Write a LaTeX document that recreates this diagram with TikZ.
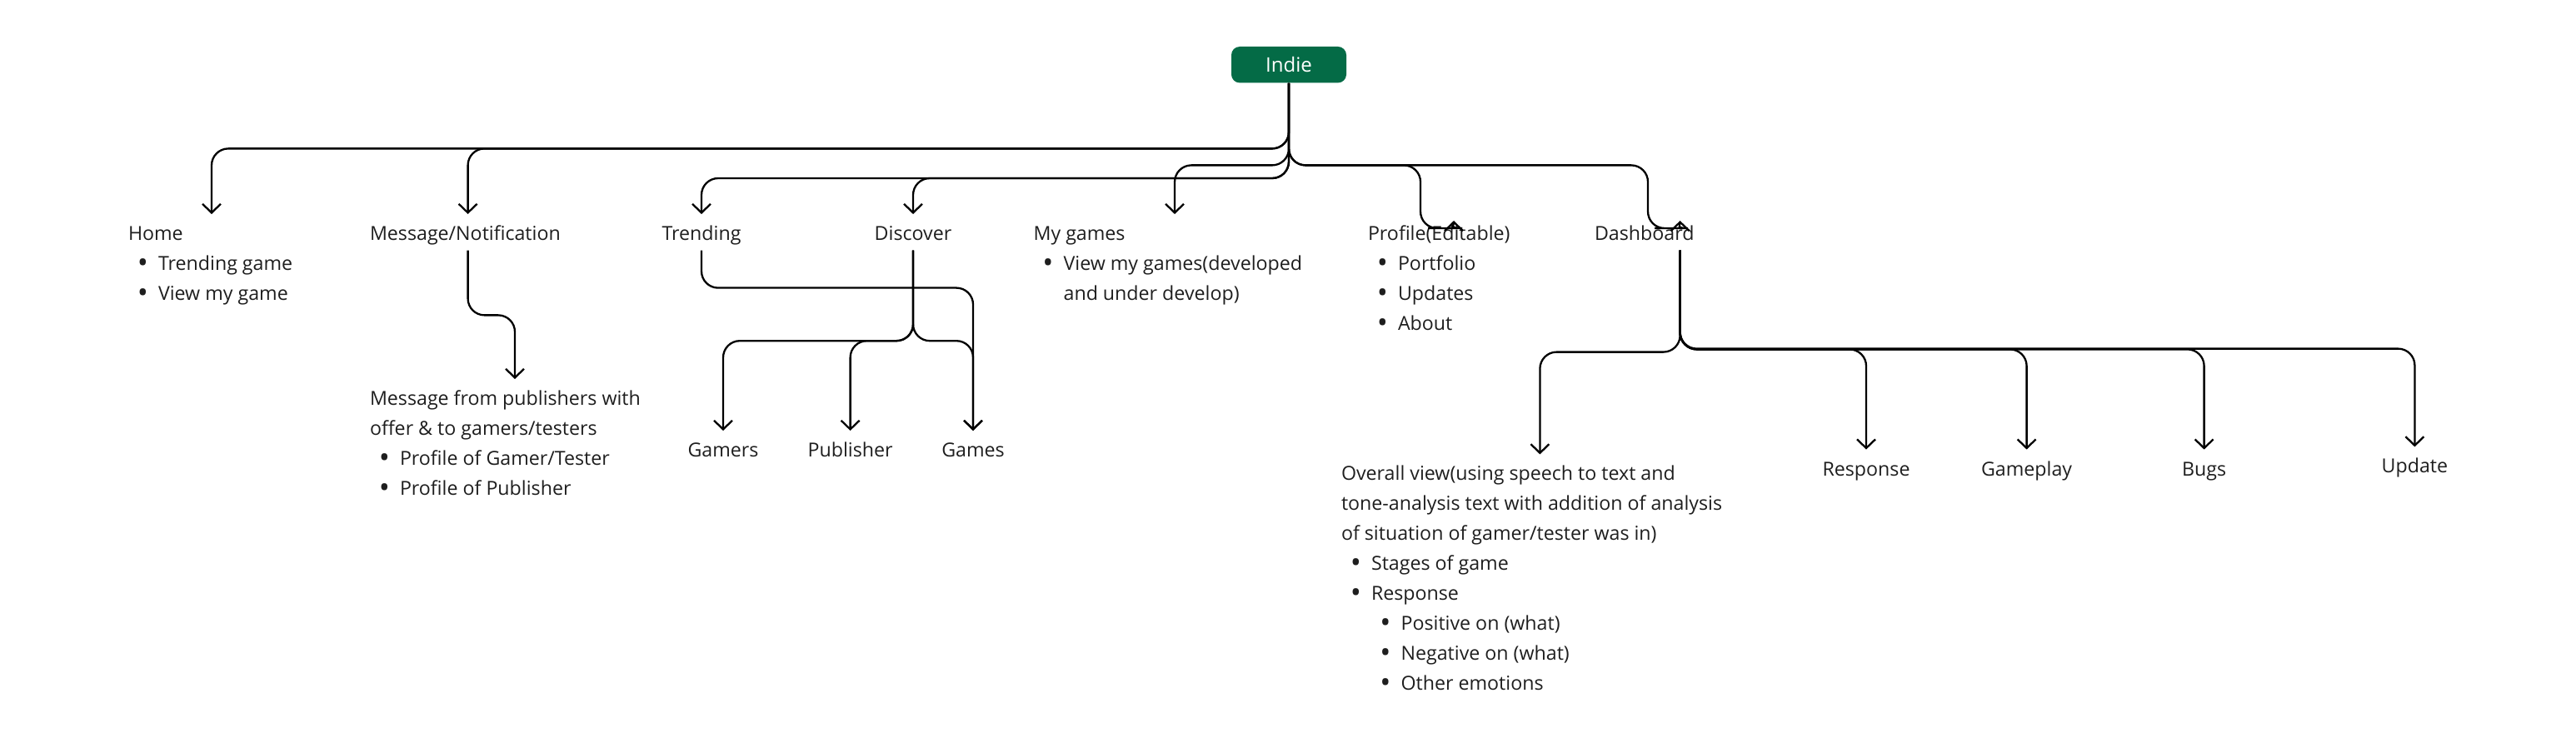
\documentclass[tikz,border=0pt]{standalone}
\usepackage{fontspec}
\setmainfont{Open Sans}
\usepackage{xcolor}
\usepackage{tikz}
\usetikzlibrary{arrows.meta}

\definecolor{indiegreen}{HTML}{046B46}
\definecolor{ink}{HTML}{1E1E1E}

\newcommand{\blk}[2]{\hbox to #1{\vtop{#2}\hss}}
\newcommand{\toprow}[1]{\hbox{\rule{0pt}{15.7pt}#1}}
\newcommand{\srcrow}[1]{\hbox{\rule[-6.1pt]{0pt}{21.8pt}#1}}
\newcommand{\txtrow}[1]{\hbox{#1}}
\newcommand{\dotmark}{\raisebox{-1.4pt}{\fontsize{17.4}{18}\selectfont\textbullet}}
\newcommand{\itemrow}[1]{\hbox{\hspace*{5.4pt}\makebox[12.6pt][l]{\dotmark}#1}}
\newcommand{\subrow}[1]{\hbox{\hspace*{23.2pt}\makebox[12.6pt][l]{\dotmark}#1}}

\begin{document}
\begin{tikzpicture}[x=1pt,y=-1pt,
  txt/.style={inner sep=0pt,outer sep=0pt,anchor=base west,text=ink,font=\fontsize{11.6}{18}\selectfont},
  ctr/.style={txt,anchor=base},
  link/.style={draw,line width=1.15pt,rounded corners=10pt,-{Straight Barb[length=5.3pt,width=11pt]}}]
\useasboundingbox (0,0) rectangle (1546,449);

\node (indie) at (773.5,38.85) [rounded corners=5pt,fill=indiegreen,minimum width=69pt,minimum height=21.7pt,inner sep=0pt,text=white,font=\fontsize{12}{14}\selectfont] {Indie};

\node (home) at (77,144.2) [txt] {\blk{100pt}{\toprow{Home}\itemrow{Trending game}\itemrow{View my game}}};
\node (msg) at (222,144.2) [txt] {\blk{117.6pt}{\srcrow{Message/Notification}}};
\node (trend) at (421,144.2) [ctr] {\srcrow{Trending}};
\node (disc) at (548,144.2) [ctr] {\srcrow{Discover}};
\node (mygames) at (620.3,144.2) [txt] {\blk{169.4pt}{\toprow{My games}\itemrow{View my games(developed}\txtrow{\hspace*{18pt}and under develop)}}};
\node (prof) at (821,144.2) [txt] {\blk{103pt}{\toprow{Profile(Editable)}\itemrow{Portfolio}\itemrow{Updates}\itemrow{About}}};
\node (dash) at (957,144.2) [txt] {\blk{102.6pt}{\srcrow{Dashboard}}};

\node (msgsub) at (222,243.2) [txt] {\blk{174pt}{\toprow{Message from publishers with}\txtrow{offer \& to gamers/testers}\itemrow{Profile of Gamer/Tester}\itemrow{Profile of Publisher}}};

\node (gamers) at (434,274.2) [ctr] {\toprow{Gamers}};
\node (publ) at (510.3,274.2) [ctr] {\toprow{Publisher}};
\node (games) at (584,274.2) [ctr] {\toprow{Games}};

\node (overall) at (805,288.4) [txt] {\blk{238.4pt}{\toprow{Overall view(using speech to text and}\txtrow{tone-analysis text with addition of analysis}\txtrow{of situation of gamer/tester was in)}\itemrow{Stages of game}\itemrow{Response}\subrow{Positive on (what)}\subrow{Negative on (what)}\subrow{Other emotions}}};
\node (resp) at (1120,285.5) [ctr] {\toprow{Response}};
\node (gplay) at (1216.3,285.5) [ctr] {\toprow{Gameplay}};
\node (bugs) at (1322.8,285.5) [ctr] {\toprow{Bugs}};
\node (upd) at (1449.2,283.9) [ctr] {\toprow{Update}};

\draw [link] (indie.south) -- (773.5,89.2) -- (127,89.2) -- (home.north);
\draw [link] (indie.south) -- (773.5,89.2) -- (280.8,89.2) -- (msg.north);
\draw [link] (indie.south) -- (773.5,99.2) -- (705,99.2) -- (mygames.north);
\draw [link] (indie.south) -- (773.5,107) -- (421,107) -- (trend.north);
\draw [link] (indie.south) -- (773.5,107) -- (548,107) -- (disc.north);
\draw [link] (indie.south) -- (773.5,99.2) -- (852.5,99.2) -- (852.5,137) -- (867,137) to[out=0,in=-90] ([yshift=-4pt]prof.north);
\draw [link] (indie.south) -- (773.5,99.2) -- (989,99.2) -- (989,137) -- (1003,137) to[out=0,in=-90] ([yshift=-4pt]dash.north);

\draw [link] (msg.south) -- (280.8,189.2) -- (309,189.2) -- (msgsub.north);

\draw [link] (trend.south) -- (421,172.8) -- (584,172.8) -- (games.north);
\draw [link] (disc.south) -- (548,204.6) -- (434,204.6) -- (gamers.north);
\draw [link] (disc.south) -- (548,204.6) -- (510.3,204.6) -- (publ.north);
\draw [link] (disc.south) -- (548,204.6) -- (584,204.6) -- (games.north);

\draw [link] (dash.south) -- (1008.3,211.3) -- (924.2,211.3) -- (overall.north);
\draw [link] (dash.south) -- (1008.3,209.7) -- (1120,209.7) -- (resp.north);
\draw [link] (dash.south) -- (1008.3,209.7) -- (1216.3,209.7) -- (gplay.north);
\draw [link] (dash.south) -- (1008.3,209.7) -- (1322.8,209.7) -- (bugs.north);
\draw [link] (dash.south) -- (1008.3,209.3) -- (1449.2,209.3) -- (upd.north);
\end{tikzpicture}
\end{document}
